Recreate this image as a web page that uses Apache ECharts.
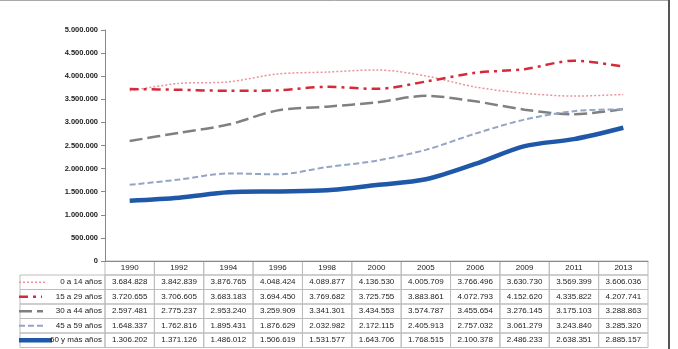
<!DOCTYPE html>
<html>
<head>
<meta charset="utf-8">
<script src="https://cdn.jsdelivr.net/npm/echarts@6/dist/echarts.min.js"></script>
<style>
  html, body { margin: 0; padding: 0; background: #fff; }
  #main { width: 678px; height: 349px; }
</style>
</head>
<body>
<div id="main"></div>
<script>
// datos
var years = ['1990', '1992', '1994', '1996', '1998', '2000', '2005', '2006', '2009', '2011', '2013'];
var names = ['0 a 14 años', '15 a 29 años', '30 a 44 años', '45 a 59 años', '60 y más años'];
var g0_14 = [3684828, 3842839, 3876765, 4048424, 4089877, 4136530, 4005709, 3766496, 3630730, 3569399, 3606036];
var g15_29 = [3720655, 3706605, 3683183, 3694450, 3769682, 3725755, 3883861, 4072793, 4152620, 4335822, 4207741];
var g30_44 = [2597481, 2775237, 2953240, 3259909, 3341301, 3434553, 3574787, 3455654, 3276145, 3175103, 3288863];
var g45_59 = [1648337, 1762816, 1895431, 1876629, 2032982, 2172115, 2405913, 2757032, 3061279, 3243840, 3285320];
var g60 = [1306202, 1371126, 1486012, 1506619, 1531577, 1643706, 1768515, 2100378, 2486233, 2638351, 2885157];
var yTicks = [0, 500000, 1000000, 1500000, 2000000, 2500000, 3000000, 3500000, 4000000, 4500000, 5000000];

var allData = [g0_14, g15_29, g30_44, g45_59, g60];
var colors = ['#E8939D', '#D42A3A', '#808080', '#93A5C6', '#1F58A8'];
var widths = [1.5, 2.5, 2.5, 2, 4.5];
var dashes = [[2, 2], [9, 5, 3, 5], [13, 5], [6, 3], 'solid'];

function fmt(n) { // separador de miles con punto
    return String(n).replace(/\B(?=(\d{3})+(?!\d))/g, '.');
}

// geometria de la tabla
var L = 105, R = 648, TOP = 30, ZERO = 261;
var legL = 20;
var headH = 14, rowH = 14.5;
var cw = (R - L) / years.length;
var fontF = '"Liberation Sans Narrow", "Liberation Sans", Arial, sans-serif';
var cellLine = '#BDBDBD';

var graphics = [];
// marco exterior
graphics.push({ type: 'line', shape: { x1: 0, y1: 0.5, x2: 669, y2: 0.5 }, style: { stroke: '#A8A8A8', lineWidth: 1 } });
graphics.push({ type: 'line', shape: { x1: 669, y1: 0, x2: 669, y2: 349 }, style: { stroke: '#555', lineWidth: 2 } });

// cabecera
for (var i = 0; i < years.length; i++) {
    graphics.push({
        type: 'rect', shape: { x: L + i * cw, y: ZERO, width: cw, height: headH },
        style: { fill: 'none', stroke: cellLine, lineWidth: 1 }
    });
    graphics.push({
        type: 'text', x: L + (i + 0.5) * cw, y: ZERO + headH / 2,
        style: { text: years[i], align: 'center', verticalAlign: 'middle', fontSize: 8, fontFamily: fontF, fill: '#222' }
    });
}
// filas
var legEnd = [45, 42, 43, 45, 52];
for (var r = 0; r < names.length; r++) {
    var y0 = ZERO + headH + r * rowH;
    graphics.push({
        type: 'rect', shape: { x: legL, y: y0, width: L - legL, height: rowH },
        style: { fill: 'none', stroke: cellLine, lineWidth: 1 }
    });
    var ls = { stroke: colors[r], lineWidth: widths[r] };
    if (dashes[r] !== 'solid') ls.lineDash = dashes[r];
    graphics.push({ type: 'line', shape: { x1: legL - 1, y1: y0 + rowH / 2, x2: legEnd[r], y2: y0 + rowH / 2 }, style: ls });
    graphics.push({
        type: 'text', x: L - 3, y: y0 + rowH / 2, z: 10,
        style: { text: names[r], align: 'right', verticalAlign: 'middle', fontSize: 8, fontFamily: fontF, fill: '#222' }
    });
    for (var i = 0; i < years.length; i++) {
        graphics.push({
            type: 'rect', shape: { x: L + i * cw, y: y0, width: cw, height: rowH },
            style: { fill: 'none', stroke: cellLine, lineWidth: 1 }
        });
        graphics.push({
            type: 'text', x: L + (i + 0.5) * cw, y: y0 + rowH / 2,
            style: { text: fmt(allData[r][i]), align: 'center', verticalAlign: 'middle', fontSize: 8, fontFamily: fontF, fill: '#222' }
        });
    }
}

var series = [];
for (var k = 0; k < names.length; k++) {
    series.push({
        name: names[k],
        type: 'line',
        data: allData[k],
        smooth: 0.3,
        symbol: 'none',
        z: k === 4 ? 5 : 2,
        lineStyle: { color: colors[k], width: widths[k], type: dashes[k] }
    });
}

var chart = echarts.init(document.getElementById('main'));
chart.setOption({
    animation: false,
    backgroundColor: '#fff',
    grid: { left: L, right: 678 - R, top: TOP, bottom: 349 - ZERO, containLabel: false },
    xAxis: {
        type: 'category',
        data: years,
        boundaryGap: true,
        axisLine: { show: true, lineStyle: { color: '#888' } },
        axisTick: { show: false },
        axisLabel: { show: false }
    },
    yAxis: {
        type: 'value',
        min: yTicks[0],
        max: yTicks[yTicks.length - 1],
        interval: 500000,
        axisLine: { show: true, lineStyle: { color: '#888' } },
        axisTick: { show: true, length: 4, lineStyle: { color: '#888' } },
        splitLine: { show: false },
        axisLabel: {
            fontSize: 7.5, fontFamily: fontF, color: '#222', fontWeight: 'bold', margin: 7,
            formatter: function (v) { return fmt(v); }
        }
    },
    graphic: graphics,
    series: series
});
</script>
</body>
</html>
